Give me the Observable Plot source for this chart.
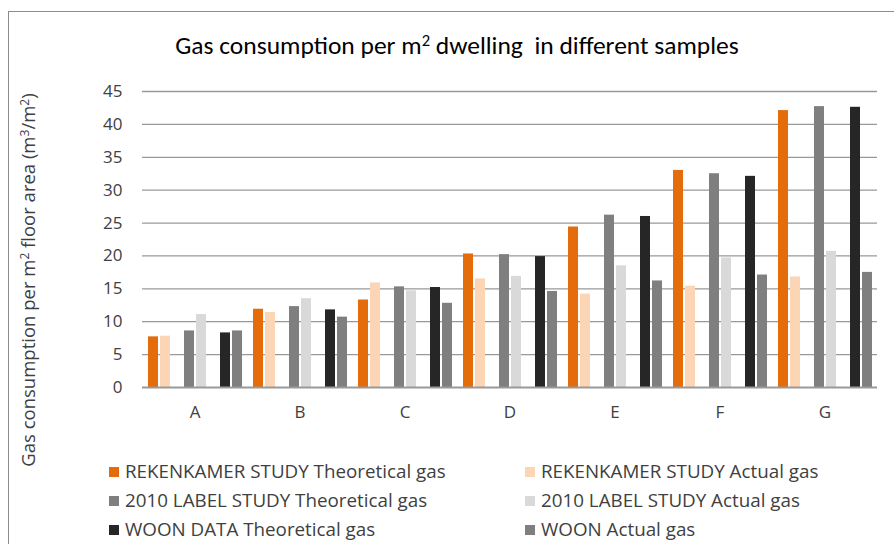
<!DOCTYPE html>
<html><head><meta charset="utf-8">
<script src="https://cdn.jsdelivr.net/npm/d3@7"></script>
<script src="https://cdn.jsdelivr.net/npm/@observablehq/plot@0.6"></script>
<style>
body{margin:0;background:#fff;}
#wrap{position:relative;width:894px;height:544px;overflow:hidden;font-family:"Open Sans",sans-serif;color:#404040;}
#frame{position:absolute;left:8px;top:11px;width:1000px;height:700px;border-left:1.5px solid #8c8c8c;border-top:1.5px solid #8c8c8c;}
#chart{position:absolute;left:0;top:0;}
#title{position:absolute;left:0;width:914px;top:29px;text-align:center;white-space:pre;font-family:Carlito,"Open Sans",sans-serif;font-size:25.5px;line-height:1.3;color:#000;}
#ylabel{position:absolute;left:27px;top:280px;transform:translate(-50%,-50%) rotate(-90deg);white-space:nowrap;font-size:18.5px;}
sup{font-size:0.65em;line-height:0;vertical-align:0.5em;}
#legend{position:absolute;left:109px;top:457px;display:grid;grid-template-columns:416px auto;grid-auto-rows:29px;font-size:18.8px;line-height:1.2;}
#legend .item{display:flex;align-items:center;white-space:nowrap;}
#legend .sw{width:10px;height:10px;margin-right:6px;flex:none;}
</style>
</head><body>
<div id="wrap">
  <div id="frame"></div>
  <div id="chart"></div>
  <div id="title"></div>
  <div id="ylabel"></div>
  <div id="legend"></div>
</div>
<script>
// text parts: [text, isSuperscript]
const titleParts = [["Gas consumption per m",false],["2",true],[" dwelling  in different samples",false]];
const yLabelParts = [["Gas consumption per m",false],["2",true],[" floor area (m",false],["3",true],["/m",false],["2",true],[")",false]];
const categories = ["A","B","C","D","E","F","G"];
const seriesNames = [
  "REKENKAMER STUDY Theoretical gas",
  "REKENKAMER STUDY Actual gas",
  "2010 LABEL STUDY Theoretical gas",
  "2010 LABEL STUDY Actual gas",
  "WOON DATA Theoretical gas",
  "WOON Actual gas"
];
const seriesColors = ["#E46C0A","#FCD5B5","#7F7F7F","#D9D9D9","#262626","#7F7F7F"];
const rekenkamerTheoretical = [7.7,11.9,13.3,20.3,24.4,33.0,42.1];
const rekenkamerActual      = [7.8,11.4,15.9,16.5,14.2,15.4,16.8];
const labelTheoretical      = [8.6,12.3,15.3,20.2,26.2,32.5,42.7];
const labelActual           = [11.1,13.5,14.7,16.9,18.5,19.7,20.7];
const woonTheoretical       = [8.3,11.8,15.2,19.9,26.0,32.1,42.6];
const woonActual            = [8.6,10.7,12.8,14.6,16.2,17.1,17.5];
const yTicks = [0,5,10,15,20,25,30,35,40,45];

const seriesValues = [rekenkamerTheoretical,rekenkamerActual,labelTheoretical,labelActual,woonTheoretical,woonActual];
const data = [];
categories.forEach((c,i)=>seriesValues.forEach((vals,s)=>data.push({cat:c,series:seriesNames[s],value:vals[i]})));
// slot layout within each group (pairs separated by empty slots)
const slotDomain = [seriesNames[0],seriesNames[1],"_gap1",seriesNames[2],seriesNames[3],"_gap2",seriesNames[4],seriesNames[5]];

const chart = Plot.plot({
  width:894, height:544,
  marginLeft:140, marginRight:16, marginTop:91, marginBottom:157,
  style:{fontFamily:"'Open Sans',sans-serif", fontSize:"17px", color:"#404040", background:"transparent", overflow:"visible"},
  fx:{domain:categories, padding:0, label:null, tickSize:0, tickPadding:18, axis:"bottom"},
  x:{domain:slotDomain, paddingInner:0.2, paddingOuter:0.29, axis:null},
  y:{domain:[0,45], ticks:yTicks, tickSize:0, tickPadding:20, label:null},
  color:{domain:seriesNames, range:seriesColors},
  marks:[
    Plot.ruleY(yTicks.slice(1), {stroke:"#999", strokeWidth:1.3}),
    Plot.barY(data, {fx:"cat", x:"series", y:"value", fill:"series"}),
    Plot.ruleY([0], {stroke:"#999", strokeWidth:1.8})
  ]
});
document.getElementById("chart").appendChild(chart);
function fillParts(el, parts){
  parts.forEach(([t,sup])=>{
    if(sup){const s=document.createElement("sup"); s.textContent=t; el.appendChild(s);}
    else el.appendChild(document.createTextNode(t));
  });
}
fillParts(document.getElementById("title"), titleParts);
fillParts(document.getElementById("ylabel"), yLabelParts);
const legend = document.getElementById("legend");
seriesNames.forEach((n,i)=>{
  const it = document.createElement("div"); it.className="item";
  const sw = document.createElement("span"); sw.className="sw"; sw.style.background=seriesColors[i];
  const t = document.createElement("span"); t.textContent=n;
  it.appendChild(sw); it.appendChild(t); legend.appendChild(it);
});
</script>
</body></html>
